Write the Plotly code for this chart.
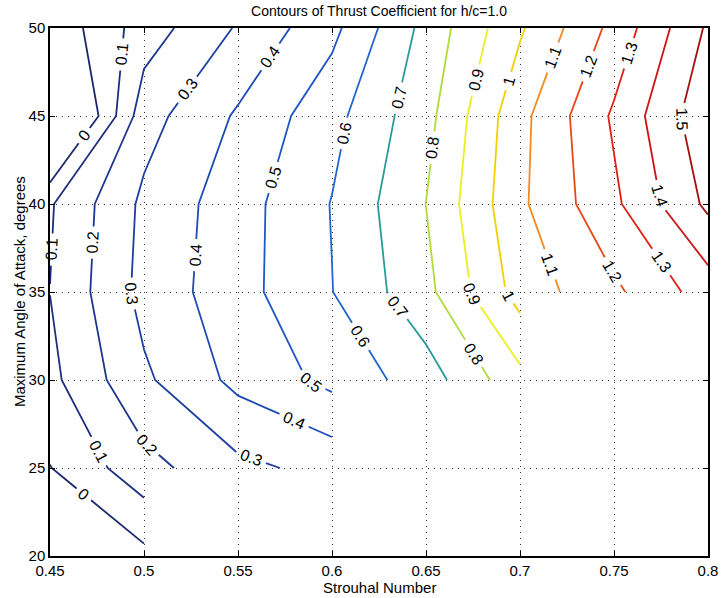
import math
import numpy as np
import plotly.graph_objects as go

# ---------------- data ----------------
nan = float("nan")
strouhal = [0.45, 0.50, 0.55, 0.60, 0.65, 0.70, 0.75, 0.80]
max_aoa_deg = [20, 25, 30, 35, 40, 45, 50]

# thrust coefficient, one row per maximum angle of attack (NaN = not computed)
ct_aoa20 = [-0.17, -0.027, nan, nan, nan, nan, nan, nan]
ct_aoa25 = [-0.003, 0.165, 0.275, 0.331, nan, nan, nan, nan]
ct_aoa30 = [0.074, 0.283, 0.427, 0.527, 0.651, 0.870, nan, nan]
ct_aoa35 = [0.101, 0.332, 0.463, 0.598, 0.772, 1.041, 1.180, 1.347]
ct_aoa40 = [0.090, 0.321, 0.457, 0.604, 0.801, 1.082, 1.280, 1.521]
ct_aoa45 = [-0.278, 0.260, 0.413, 0.567, 0.767, 1.070, 1.315, 1.574]
ct_aoa50 = [-0.080, 0.148, 0.310, 0.473, 0.732, 0.987, 1.230, 1.515]

contour_levels = [0.0, 0.1, 0.2, 0.3, 0.4, 0.5, 0.6, 0.7,
                  0.8, 0.9, 1.0, 1.1, 1.2, 1.3, 1.4, 1.5]

x_tick_vals = [0.45, 0.5, 0.55, 0.6, 0.65, 0.7, 0.75, 0.8]
x_tick_text = ["0.45", "0.5", "0.55", "0.6", "0.65", "0.7", "0.75", "0.8"]
y_tick_vals = [20, 25, 30, 35, 40, 45, 50]
y_tick_text = ["20", "25", "30", "35", "40", "45", "50"]

# ---------------- styling ----------------
level_colors = ["#1b296c", "#1c2e7e", "#1d368f", "#1e3fa2", "#1e4bb6", "#1f57c6",
                "#2466cf", "#2a9a9b", "#b0dc3a", "#ecee20", "#f3d000", "#f38a1e",
                "#ec4618", "#e01e14", "#cc1414", "#a81010"]

# where each inline contour label sits (level, approx. Strouhal, approx. angle);
# snapped onto the computed contour line
label_hints = [
    (0.0, 0.468, 43.9), (0.0, 0.468, 23.5),
    (0.1, 0.488, 48.5), (0.1, 0.4526, 37.4), (0.1, 0.475, 25.9),
    (0.2, 0.4736, 37.8), (0.2, 0.501, 26.3),
    (0.3, 0.523, 46.5), (0.3, 0.493, 34.9), (0.3, 0.556, 25.3),
    (0.4, 0.568, 48.3), (0.4, 0.527, 37.1), (0.4, 0.579, 27.5),
    (0.5, 0.569, 41.5), (0.5, 0.589, 29.9),
    (0.6, 0.607, 44.0), (0.6, 0.614, 32.4),
    (0.7, 0.636, 46.0), (0.7, 0.635, 34.2),
    (0.8, 0.654, 43.2), (0.8, 0.675, 31.5),
    (0.9, 0.678, 47.0), (0.9, 0.674, 34.9),
    (1.0, 0.6935, 47.0), (1.0, 0.6924, 34.7),
    (1.1, 0.718, 48.3), (1.1, 0.714, 36.5),
    (1.2, 0.737, 47.8), (1.2, 0.748, 36.1),
    (1.3, 0.757, 48.6), (1.3, 0.775, 36.7),
    (1.4, 0.7735, 40.45),
    (1.5, 0.784, 44.8),
]

FONT = "Liberation Sans, Arial, Helvetica, sans-serif"
LABEL_SIZE = 16
W, H = 728, 598
MARGIN = dict(l=50, r=10, t=28, b=42)
X_RANGE = (0.45, 0.8)
Y_RANGE = (20, 50)
PLOT_W = W - MARGIN["l"] - MARGIN["r"]
PLOT_H = H - MARGIN["t"] - MARGIN["b"]

Z = np.array([ct_aoa20, ct_aoa25, ct_aoa30, ct_aoa35,
              ct_aoa40, ct_aoa45, ct_aoa50], dtype=float)
X = np.array(strouhal, dtype=float)
Y = np.array(max_aoa_deg, dtype=float)
NY, NX = Z.shape


def to_px(pt):
    x, y = pt
    return (MARGIN["l"] + (x - X_RANGE[0]) / (X_RANGE[1] - X_RANGE[0]) * PLOT_W,
            MARGIN["t"] + (Y_RANGE[1] - y) / (Y_RANGE[1] - Y_RANGE[0]) * PLOT_H)


# ---------------- marching squares (cells with missing corners are skipped) ----------------
def crossing(key, lev):
    kind, i, j = key
    if kind == "h":
        z0, z1 = Z[i, j], Z[i, j + 1]
        t = (lev - z0) / (z1 - z0)
        return (X[j] + t * (X[j + 1] - X[j]), Y[i])
    z0, z1 = Z[i, j], Z[i + 1, j]
    t = (lev - z0) / (z1 - z0)
    return (X[j], Y[i] + t * (Y[i + 1] - Y[i]))


def contour_paths(lev):
    segs = []
    for i in range(NY - 1):
        for j in range(NX - 1):
            c = [Z[i, j], Z[i, j + 1], Z[i + 1, j + 1], Z[i + 1, j]]
            if np.any(np.isnan(c)):
                continue
            edges = [("h", i, j), ("v", i, j + 1), ("h", i + 1, j), ("v", i, j)]
            up = [v >= lev for v in c]
            cut = [k for k in range(4) if up[k] != up[(k + 1) % 4]]
            if len(cut) == 2:
                segs.append((edges[cut[0]], edges[cut[1]]))
            elif len(cut) == 4:
                if (np.mean(c) >= lev) == up[0]:
                    segs += [(edges[0], edges[1]), (edges[2], edges[3])]
                else:
                    segs += [(edges[3], edges[0]), (edges[1], edges[2])]
    by_edge = {}
    for n, (a, b) in enumerate(segs):
        by_edge.setdefault(a, []).append(n)
        by_edge.setdefault(b, []).append(n)
    used = [False] * len(segs)

    def walk(cur, n):
        keys = [cur]
        while n is not None and not used[n]:
            used[n] = True
            a, b = segs[n]
            cur = b if a == cur else a
            keys.append(cur)
            n = next((m for m in by_edge[cur] if not used[m]), None)
        return keys

    paths = []
    for e, lst in by_edge.items():
        if len(lst) == 1 and not used[lst[0]]:
            paths.append(walk(e, lst[0]))
    for n in range(len(segs)):
        if not used[n]:
            paths.append(walk(segs[n][0], n))
    return [[crossing(k, lev) for k in p] for p in paths]


def arc_lengths(pts_px):
    s = [0.0]
    for (x0, y0), (x1, y1) in zip(pts_px[:-1], pts_px[1:]):
        s.append(s[-1] + math.hypot(x1 - x0, y1 - y0))
    return s


def point_at(pts, s_list, s):
    for k in range(1, len(s_list)):
        if s <= s_list[k] or k == len(s_list) - 1:
            seg = s_list[k] - s_list[k - 1]
            t = 0.0 if seg == 0 else (s - s_list[k - 1]) / seg
            t = min(max(t, 0.0), 1.0)
            return (pts[k - 1][0] + t * (pts[k][0] - pts[k - 1][0]),
                    pts[k - 1][1] + t * (pts[k][1] - pts[k - 1][1]))


def nearest_arc(pts_px, s_list, q):
    best = (1e18, 0.0)
    for k in range(1, len(pts_px)):
        (x0, y0), (x1, y1) = pts_px[k - 1], pts_px[k]
        dx, dy = x1 - x0, y1 - y0
        L2 = dx * dx + dy * dy
        t = 0.0 if L2 == 0 else ((q[0] - x0) * dx + (q[1] - y0) * dy) / L2
        t = min(max(t, 0.0), 1.0)
        px, py = x0 + t * dx, y0 + t * dy
        d = math.hypot(q[0] - px, q[1] - py)
        if d < best[0]:
            best = (d, s_list[k - 1] + t * (s_list[k] - s_list[k - 1]))
    return best


def fmt_level(v):
    return "%g" % v


def text_width(txt, size):
    return size * sum(0.556 if ch.isdigit() else 0.278 for ch in txt)


fig = go.Figure()
annotations = []

for lev, color in zip(contour_levels, level_colors):
    paths = contour_paths(lev)
    info = []
    for p in paths:
        ppx = [to_px(pt) for pt in p]
        info.append({"pts": p, "px": ppx, "s": arc_lengths(ppx), "gaps": []})

    txt = fmt_level(lev)
    half = text_width(txt, LABEL_SIZE) / 2 + 5
    for hl, hx, hy in label_hints:
        if abs(hl - lev) > 1e-9 or not info:
            continue
        q = to_px((hx, hy))
        cands = [(nearest_arc(d["px"], d["s"], q), idx) for idx, d in enumerate(info)]
        (dist, s0), idx = min(cands, key=lambda c: c[0][0])
        d = info[idx]
        total = d["s"][-1]
        a, b = max(s0 - half, 0.0), min(s0 + half, total)
        pa, pb = point_at(d["px"], d["s"], a), point_at(d["px"], d["s"], b)
        ang = math.degrees(math.atan2(pb[1] - pa[1], pb[0] - pa[0]))
        while ang > 90:
            ang -= 180
        while ang <= -90:
            ang += 180
        cx, cy = point_at(d["pts"], d["s"], s0)
        d["gaps"].append((a, b))
        annotations.append(dict(
            x=cx, y=cy, xref="x", yref="y", text=txt, showarrow=False,
            textangle=ang, xanchor="center", yanchor="middle",
            font=dict(family=FONT, size=LABEL_SIZE, color="black")))

    xs, ys = [], []
    for d in info:
        total = d["s"][-1]
        keep, start = [], 0.0
        for a, b in sorted(d["gaps"]):
            if a > start:
                keep.append((start, a))
            start = max(start, b)
        if start < total:
            keep.append((start, total))
        for a, b in keep:
            if b - a < 0.5:
                continue
            piece = [point_at(d["pts"], d["s"], a)]
            piece += [pt for pt, s in zip(d["pts"], d["s"]) if a < s < b]
            piece.append(point_at(d["pts"], d["s"], b))
            xs += [pt[0] for pt in piece] + [None]
            ys += [pt[1] for pt in piece] + [None]

    fig.add_trace(go.Scatter(x=xs, y=ys, mode="lines",
                             line=dict(color=color, width=1.8),
                             hoverinfo="skip", showlegend=False))

annotations.append(dict(
    text="Strouhal Number", xref="paper", yref="paper", x=0.5, y=-0.06,
    xanchor="center", yanchor="middle", showarrow=False,
    font=dict(family=FONT, size=15, color="black")))
annotations.append(dict(
    text="Maximum Angle of Attack, degrees", xref="paper", yref="paper",
    x=-0.047, y=0.5, xanchor="center", yanchor="middle", textangle=-90,
    showarrow=False, font=dict(family=FONT, size=15, color="black")))

axis_common = dict(
    showline=True, linecolor="black", linewidth=1.5, mirror="ticks",
    ticks="inside", ticklen=5, tickwidth=1, tickcolor="black",
    showgrid=True, gridcolor="#333333", gridwidth=1, griddash="1px,5px",
    zeroline=False, tickfont=dict(family=FONT, size=15, color="black"),
)

fig.update_layout(
    width=W, height=H, margin=MARGIN,
    paper_bgcolor="white", plot_bgcolor="white",
    title=dict(text="Contours of Thrust Coefficient for h/c=1.0",
               x=0.5, xref="paper", xanchor="center",
               y=1 - 11 / H, yref="container", yanchor="middle",
               font=dict(family=FONT, size=14, color="black")),
    xaxis=dict(range=list(X_RANGE), tickmode="array", tickvals=x_tick_vals,
               ticktext=x_tick_text, **axis_common),
    yaxis=dict(range=list(Y_RANGE), tickmode="array", tickvals=y_tick_vals,
               ticktext=y_tick_text, **axis_common),
    annotations=annotations,
)

fig.write_html("out.html")
